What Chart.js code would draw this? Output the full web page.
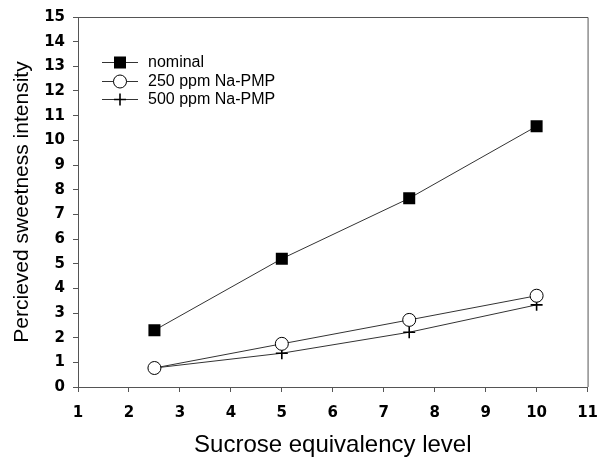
<!DOCTYPE html>
<html>
<head>
<meta charset="utf-8">
<script src="https://cdn.jsdelivr.net/npm/chart.js@4/dist/chart.umd.min.js"></script>
<style>
  html, body { margin: 0; padding: 0; background: #fff; }
  #wrap { width: 610px; height: 457px; }
</style>
</head>
<body>
<div id="wrap"><canvas id="chart" width="610" height="457"></canvas></div>
<script>
// data
const levels = [2.5, 5, 7.5, 10];
const nominal = [2.3, 5.2, 7.65, 10.57];
const ppm250 = [0.77, 1.75, 2.72, 3.7];
const ppm500 = [0.77, 1.37, 2.22, 3.33];
const seriesNames = ["nominal", "250 ppm Na-PMP", "500 ppm Na-PMP"];
const xTicks = [1, 2, 3, 4, 5, 6, 7, 8, 9, 10, 11];
const yTicks = [0, 1, 2, 3, 4, 5, 6, 7, 8, 9, 10, 11, 12, 13, 14, 15];

function toPoints(ys) {
  return levels.map((x, i) => ({ x: x, y: ys[i] }));
}

function drawMarker(ctx, style, x, y) {
  ctx.save();
  ctx.strokeStyle = "#000";
  ctx.fillStyle = "#000";
  if (style === "rect") {
    ctx.fillRect(x - 6, y - 6, 12, 12);
  } else if (style === "circle") {
    ctx.fillStyle = "#fff";
    ctx.lineWidth = 1;
    ctx.beginPath();
    ctx.arc(x, y, 6.5, 0, Math.PI * 2);
    ctx.fill();
    ctx.stroke();
  } else {
    ctx.lineWidth = 1.6;
    ctx.beginPath();
    ctx.moveTo(x - 6, y); ctx.lineTo(x + 6, y);
    ctx.moveTo(x, y - 6); ctx.lineTo(x, y + 6);
    ctx.stroke();
  }
  ctx.restore();
}

const boxAndLegend = {
  id: "boxAndLegend",
  afterDraw(chart) {
    const ctx = chart.ctx;
    const a = chart.chartArea;
    ctx.save();
    ctx.strokeStyle = "#555";
    ctx.lineWidth = 1;
    ctx.beginPath();
    ctx.moveTo(a.left, a.top + 0.5);
    ctx.lineTo(a.right + 0.5, a.top + 0.5);
    ctx.lineTo(a.right + 0.5, a.bottom);
    ctx.stroke();

    const rows = [62, 81, 99];
    const styles = ["rect", "circle", "cross"];
    ctx.font = "16px 'Liberation Sans', Arial, sans-serif";
    ctx.textBaseline = "middle";
    ctx.fillStyle = "#000";
    chart.data.datasets.forEach((ds, i) => {
      const y = rows[i];
      ctx.strokeStyle = "#333";
      ctx.lineWidth = 1;
      ctx.beginPath();
      ctx.moveTo(102, y + 0.5);
      ctx.lineTo(138, y + 0.5);
      ctx.stroke();
      drawMarker(ctx, styles[i], 120, y + 0.5);
      ctx.fillText(ds.label, 148, y + 1);
    });
    ctx.restore();
  }
};

const ctx = document.getElementById("chart").getContext("2d");
new Chart(ctx, {
  type: "scatter",
  data: {
    datasets: [
      {
        label: seriesNames[0],
        data: toPoints(nominal),
        showLine: true,
        borderColor: "#333",
        borderWidth: 1,
        pointStyle: "rect",
        pointRadius: 8.5,
        pointBackgroundColor: "#000",
        pointBorderColor: "#000",
        pointBorderWidth: 0
      },
      {
        label: seriesNames[1],
        data: toPoints(ppm250),
        showLine: true,
        borderColor: "#333",
        borderWidth: 1,
        pointStyle: "circle",
        pointRadius: 6.5,
        pointBackgroundColor: "#fff",
        pointBorderColor: "#000",
        pointBorderWidth: 1
      },
      {
        label: seriesNames[2],
        data: toPoints(ppm500),
        showLine: true,
        borderColor: "#333",
        borderWidth: 1,
        pointStyle: "cross",
        pointRadius: 6,
        pointBorderColor: "#000",
        pointBorderWidth: 1.6
      }
    ]
  },
  options: {
    responsive: false,
    animation: false,
    layout: { padding: { top: 16, right: 20, left: 0, bottom: 0 } },
    plugins: {
      legend: { display: false },
      tooltip: { enabled: false }
    },
    scales: {
      x: {
        type: "linear",
        min: xTicks[0],
        max: xTicks[xTicks.length - 1],
        afterBuildTicks: s => { s.ticks = xTicks.map(v => ({ value: v })); },
        afterFit: s => { s.height = 70; },
        grid: { drawOnChartArea: false, drawTicks: true, tickLength: 5, color: "#555" },
        border: { display: true, color: "#555", width: 1 },
        ticks: {
          padding: 12,
          color: "#000",
          font: { family: "'DejaVu Sans', sans-serif", size: 15, weight: "bold" }
        },
        title: {
          display: true,
          text: "Sucrose equivalency level",
          color: "#000",
          padding: { top: 0, bottom: 0 },
          font: { family: "'Liberation Sans', Arial, sans-serif", size: 24, lineHeight: 1 }
        }
      },
      y: {
        type: "linear",
        min: yTicks[0],
        max: yTicks[yTicks.length - 1],
        afterBuildTicks: s => { s.ticks = yTicks.map(v => ({ value: v })); },
        afterFit: s => { s.width = 78; },
        grid: { drawOnChartArea: false, drawTicks: true, tickLength: 5, color: "#555" },
        border: { display: true, color: "#555", width: 1 },
        ticks: {
          padding: 8,
          color: "#000",
          font: { family: "'DejaVu Sans', sans-serif", size: 15, weight: "bold" }
        },
        title: {
          display: true,
          text: "Percieved sweetness intensity",
          color: "#000",
          padding: { top: 12, bottom: 0 },
          font: { family: "'Liberation Sans', Arial, sans-serif", size: 21, lineHeight: 1 }
        }
      }
    }
  },
  plugins: [boxAndLegend]
});
</script>
</body>
</html>
